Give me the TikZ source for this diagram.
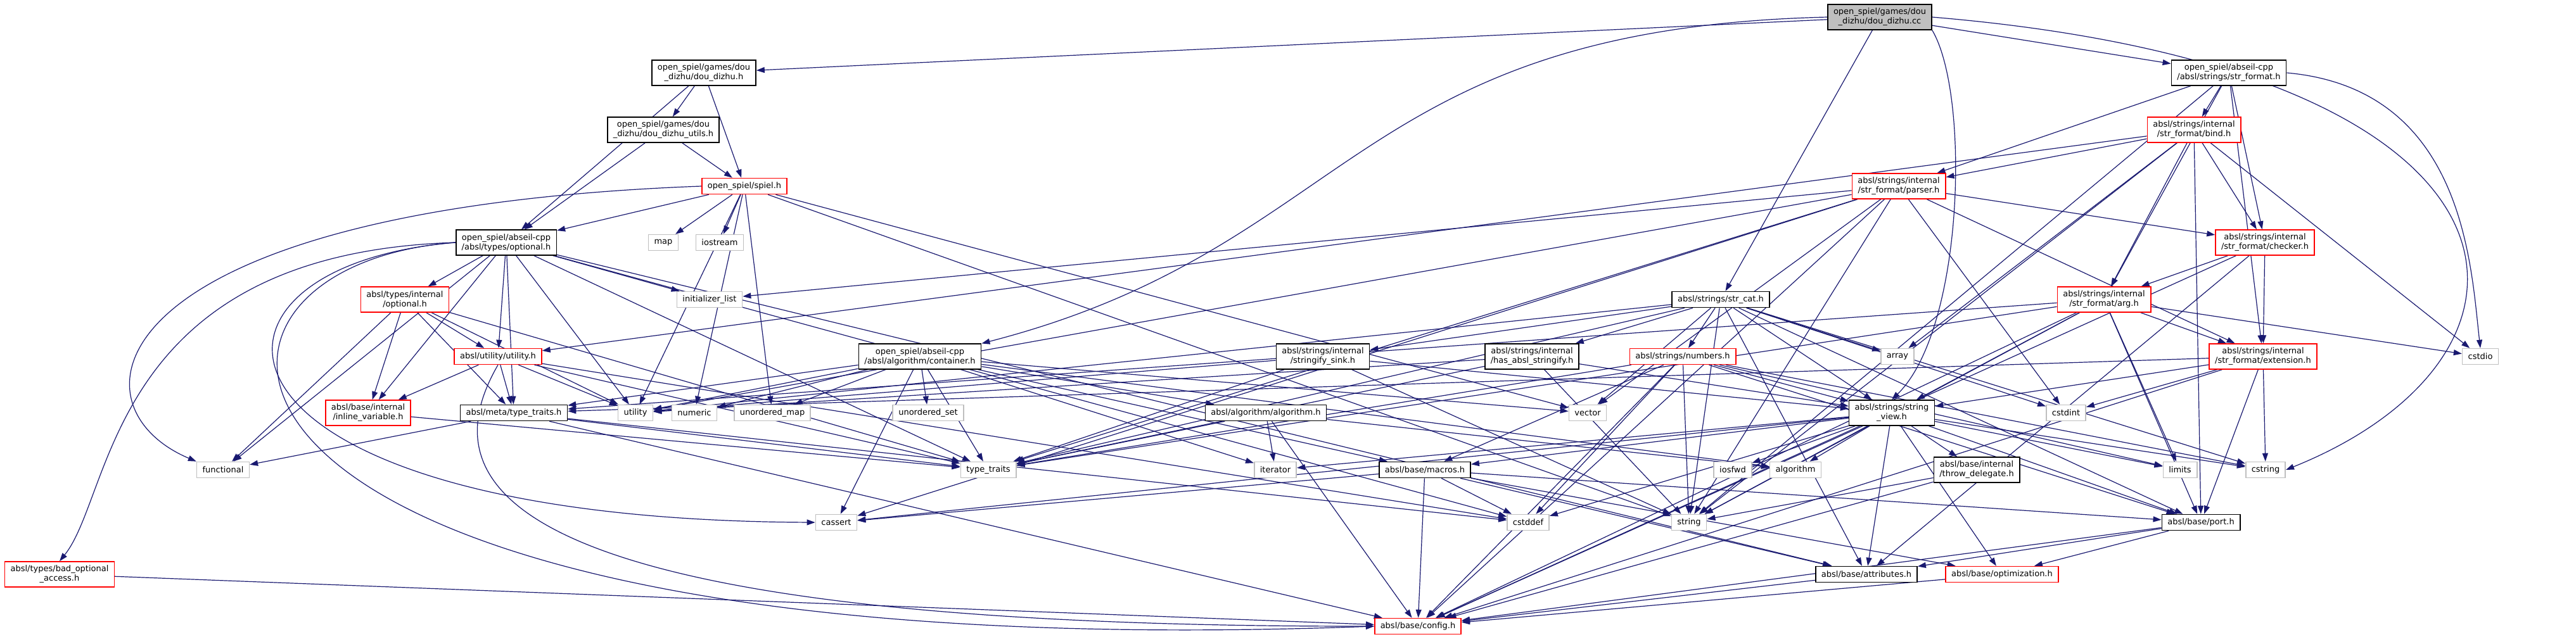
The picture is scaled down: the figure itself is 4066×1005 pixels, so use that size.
\documentclass[tikz,border=0pt]{standalone}
\usepackage{fontspec}
\setmainfont{DejaVu Sans}
\usetikzlibrary{arrows.meta, backgrounds}
\definecolor{edgeblue}{RGB}{25,25,112}
\definecolor{sysgray}{RGB}{191,191,191}

\begin{document}
\begin{tikzpicture}[
    x=1pt, y=-1pt,
    file/.style={rectangle, draw=black, fill=white, line width=1.6pt,
                 minimum height=25pt, inner xsep=9pt, inner ysep=6pt,
                 font=\fontsize{13}{15}\selectfont, align=center},
    trunc/.style={file, draw=red},
    sys/.style={file, draw=sysgray},
    inc/.style={-{Triangle[length=13pt,width=9pt]}, draw=edgeblue,
                line width=1.2pt},
  ]
    \useasboundingbox (0,0) rectangle (4066,1005);

    % Kaynak dosya ve oyun basliklari
    \node[file, fill=sysgray] (root) at (2967,27)
      {open\_spiel/games/dou\\\_dizhu/dou\_dizhu.cc};
    \node[file] (ddh) at (1111,115)
      {open\_spiel/games/dou\\\_dizhu/dou\_dizhu.h};
    \node[file] (utils) at (1047,205)
      {open\_spiel/games/dou\\\_dizhu/dou\_dizhu\_utils.h};
    \node[trunc] (spiel) at (1175,294) {open\_spiel/spiel.h};

    % str_format katmani
    \node[file] (strformat) at (3518,115)
      {open\_spiel/abseil-cpp\\/absl/strings/str\_format.h};
    \node[trunc] (bind) at (3463,205) {absl/strings/internal\\/str\_format/bind.h};
    \node[trunc] (parser) at (2997,294) {absl/strings/internal\\/str\_format/parser.h};
    \node[trunc] (checker) at (3575,383) {absl/strings/internal\\/str\_format/checker.h};
    \node[trunc] (arg) at (3321,473) {absl/strings/internal\\/str\_format/arg.h};
    \node[trunc] (extension) at (3572,563) {absl/strings/internal\\/str\_format/extension.h};

    % absl basliklari
    \node[file] (opt) at (799,383) {open\_spiel/abseil-cpp\\/absl/types/optional.h};
    \node[trunc] (iopt) at (639,473) {absl/types/internal\\/optional.h};
    \node[file] (strcat) at (2716,473) {absl/strings/str\_cat.h};
    \node[trunc] (utilh) at (786,563) {absl/utility/utility.h};
    \node[file] (container) at (1452,563)
      {open\_spiel/abseil-cpp\\/absl/algorithm/container.h};
    \node[file] (sink) at (2088,563) {absl/strings/internal\\/stringify\_sink.h};
    \node[file] (hasstr) at (2418,563) {absl/strings/internal\\/has\_absl\_stringify.h};
    \node[trunc] (numbers) at (2656,563) {absl/strings/numbers.h};
    \node[trunc] (inlinev) at (581,652) {absl/base/internal\\/inline\_variable.h};
    \node[file] (metatt) at (811,652) {absl/meta/type\_traits.h};
    \node[file] (algoh) at (1998,652) {absl/algorithm/algorithm.h};
    \node[file] (sview) at (2986,652) {absl/strings/string\\\_view.h};
    \node[file] (macros) at (2249,742) {absl/base/macros.h};
    \node[file] (throwd) at (3120,742) {absl/base/internal\\/throw\_delegate.h};
    \node[file] (port) at (3474,825) {absl/base/port.h};
    \node[trunc] (badopt) at (94,907) {absl/types/bad\_optional\\\_access.h};
    \node[file] (attributes) at (2946,907) {absl/base/attributes.h};
    \node[trunc] (optim) at (3160,907) {absl/base/optimization.h};
    \node[trunc] (config) at (2238,989) {absl/base/config.h};

    % Standart basliklar
    \node[sys] (map) at (1047,383) {map};
    \node[sys] (iostream) at (1136,383) {iostream};
    \node[sys] (initlist) at (1120,473) {initializer\_list};
    \node[sys] (array) at (2995,563) {array};
    \node[sys] (cstdio) at (3915,563) {cstdio};
    \node[sys] (utility) at (1003,652) {utility};
    \node[sys] (numeric) at (1096,652) {numeric};
    \node[sys] (umap) at (1219,652) {unordered\_map};
    \node[sys] (uset) at (1465,652) {unordered\_set};
    \node[sys] (vector) at (2506,652) {vector};
    \node[sys] (cstdint) at (3261,652) {cstdint};
    \node[sys] (functional) at (352,742) {functional};
    \node[sys] (typetraits) at (1560,742) {type\_traits};
    \node[sys] (iterator) at (2013,742) {iterator};
    \node[sys] (iosfwd) at (2735,742) {iosfwd};
    \node[sys] (algorithm) at (2834,742) {algorithm};
    \node[sys] (limits) at (3441,742) {limits};
    \node[sys] (cstring) at (3576,742) {cstring};
    \node[sys] (cassert) at (1320,825) {cassert};
    \node[sys] (cstddef) at (2412,825) {cstddef};
    \node[sys] (string) at (2666,825) {string};

    % Oklar
    \begin{scope}[on background layer]
      \foreach \t in {ddh,strcat,strformat}
        \draw[inc] (root) -- (\t);
      \draw[inc] (root.west) .. controls (2130,45) and (2140,390) .. (container.north east);
      \draw[inc] (root.south east) .. controls (3110,150) and (3100,520) .. (sview.north);
      \draw[inc] (root.east) .. controls (4040,110) and (4060,560) .. (cstring.east);

      \foreach \t in {opt,utils,spiel}
        \draw[inc] (ddh) -- (\t);
      \foreach \t in {opt,spiel}
        \draw[inc] (utils) -- (\t);

      \foreach \t in {opt,map,iostream,utility,numeric,umap,vector,string}
        \draw[inc] (spiel) -- (\t);
      \draw[inc] (spiel.west) .. controls (150,330) and (100,640) .. (functional.north west);

      \foreach \t in {iopt,utilh,metatt,inlinev,functional,utility,initlist,
                      attributes,cstddef,typetraits}
        \draw[inc] (opt) -- (\t);
      \draw[inc] (opt.west) .. controls (170,400) and (180,780) .. (badopt.north);
      \draw[inc] (opt.west) .. controls (210,420) and (230,1060) .. (config.west);
      \draw[inc] (opt.west) .. controls (260,420) and (280,820) .. (cassert.west);

      \foreach \t in {functional,inlinev,metatt,utilh,utility,typetraits}
        \draw[inc] (iopt) -- (\t);
      \foreach \t in {inlinev,metatt,utility,cstddef,typetraits}
        \draw[inc] (utilh) -- (\t);
      \draw[inc] (utilh.south) .. controls (680,760) and (760,990) .. (config.west);
      \foreach \t in {functional,typetraits,config,cstddef}
        \draw[inc] (metatt) -- (\t);
      \draw[inc] (inlinev) -- (typetraits);
      \draw[inc] (badopt) -- (config);

      \foreach \t in {algoh,macros,metatt,algorithm,cassert,iterator,numeric,
                      typetraits,umap,uset,utility,vector}
        \draw[inc] (container) -- (\t);
      \foreach \t in {algorithm,iterator,typetraits,config}
        \draw[inc] (algoh) -- (\t);

      \foreach \t in {bind,parser,checker,arg,extension,string}
        \draw[inc] (strformat) -- (\t);
      \draw[inc] (strformat.east) .. controls (3890,140) and (3900,420) .. (cstdio.north);
      \foreach \t in {parser,checker,arg,utilh,array,cstdio,string,port}
        \draw[inc] (bind) -- (\t);
      \foreach \t in {checker,extension,initlist,cassert,cstdint,string,vector,
                      config,typetraits,utility}
        \draw[inc] (parser) -- (\t);
      \foreach \t in {arg,extension,attributes,config}
        \draw[inc] (checker) -- (\t);
      \foreach \t in {extension,cstdio,limits,string,typetraits,metatt,port,
                      sview,config}
        \draw[inc] (arg) -- (\t);
      \foreach \t in {cstdint,cstring,port,config,sview,metatt}
        \draw[inc] (extension) -- (\t);

      \foreach \t in {sink,hasstr,numbers,array,vector,sview,string,cstdint,
                      cstring,port,attributes,typetraits,utility}
        \draw[inc] (strcat) -- (\t);
      \foreach \s in {sink,hasstr}
        \foreach \t in {string,typetraits,utility,sview}
          \draw[inc] (\s) -- (\t);
      \foreach \t in {sview,macros,port,cstddef,cstring,limits,string,
                      typetraits,config}
        \draw[inc] (numbers) -- (\t);
      \foreach \t in {algorithm,cassert,cstddef,cstring,iosfwd,iterator,limits,
                      string,attributes,config,throwd,macros,optim,port}
        \draw[inc] (sview) -- (\t);

      \foreach \t in {cassert,cstddef,attributes,config,optim,port}
        \draw[inc] (macros) -- (\t);
      \foreach \t in {string,config}
        \draw[inc] (throwd) -- (\t);
      \foreach \t in {attributes,config,optim}
        \draw[inc] (port) -- (\t);
      \draw[inc] (attributes) -- (config);
      \draw[inc] (optim) -- (config);
    \end{scope}
  \end{tikzpicture}
\end{document}
